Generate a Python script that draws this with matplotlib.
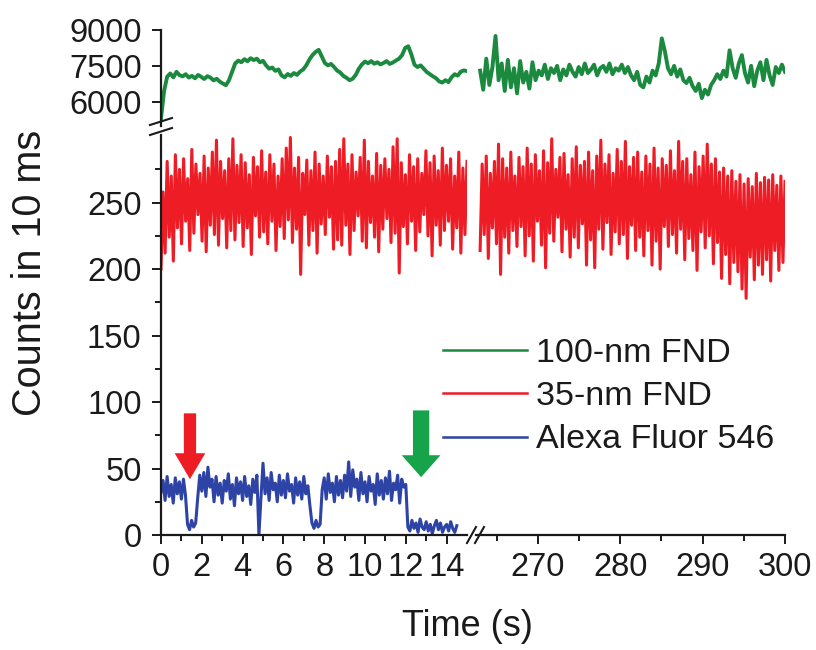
import numpy as np
import matplotlib
matplotlib.use("Agg")
import matplotlib.pyplot as plt
from matplotlib.patches import FancyArrow
from matplotlib.lines import Line2D

plt.rcParams['font.family'] = ['Liberation Sans', 'DejaVu Sans']

# ── Photon count traces (counts per 10 ms bin) ──────────────────────
# 35-nm FND, first 15 s
red_left = [
    200, 258, 212, 281, 224, 270, 206, 286, 231, 275,
    219, 283, 236, 268, 214, 290, 227, 279, 241, 272,
    221, 285, 213, 276, 233, 288, 226, 297, 218, 281,
    238, 274, 216, 283, 229, 298, 222, 278, 235, 286,
    217, 280, 231, 271, 211, 284, 240, 277, 224, 289,
    228, 273, 219, 286, 236, 279, 214, 270, 232, 283,
    223, 291, 237, 299, 220, 276, 230, 284, 196, 272,
    241, 282, 218, 274, 229, 288, 212, 279, 234, 270,
    226, 285, 239, 277, 215, 281, 222, 290, 218, 298,
    233, 279, 211, 286, 229, 273, 240, 284, 221, 297,
    216, 281, 235, 270, 224, 287, 213, 278, 230, 283,
    238, 275, 220, 292, 227, 298, 197, 280, 232, 271,
    219, 286, 236, 277, 214, 283, 228, 272, 241, 289,
    225, 280, 210, 285, 233, 274, 218, 291, 229, 278,
    236, 283, 215, 270, 231, 288, 212, 276, 226, 281,
]
# 35-nm FND, 263-300 s
red_right = [
    214, 279, 226, 285, 208, 272, 231, 281, 219, 294,
    196, 283, 224, 276, 212, 288, 229, 270, 217, 284,
    232, 277, 210, 291, 225, 279, 206, 286, 236, 274,
    218, 289, 201, 280, 227, 298, 221, 275, 239, 284,
    213, 287, 230, 271, 209, 283, 224, 292, 216, 278,
    234, 281, 203, 288, 222, 274, 201, 285, 230, 297,
    215, 279, 235, 286, 211, 272, 228, 290, 219, 281,
    226, 296, 208, 277, 233, 284, 214, 288, 224, 273,
    210, 285, 229, 279, 203, 291, 221, 276, 200, 283,
    232, 278, 217, 289, 226, 274, 212, 296, 230, 281,
    207, 283, 223, 271, 214, 288, 199, 277, 228, 285,
    216, 294, 225, 279, 204, 283, 220, 273, 193, 276,
    211, 270, 189, 274, 205, 266, 198, 271, 185, 264,
    178, 268, 209, 262, 192, 272, 203, 265, 196, 269,
    207, 267, 191, 271, 214, 263, 199, 270, 205, 266,
]
# 100-nm FND, first 15 s
green_left = [
    5300, 6450, 7050, 7180, 7020, 7250, 7110, 7060, 7150, 7010,
    7080, 6980, 7120, 7040, 6950, 7070, 7010, 6890, 6960, 6840,
    6760, 6690, 6900, 7250, 7600, 7720, 7650, 7780, 7690, 7820,
    7740, 7800, 7650, 7710, 7520, 7380, 7430, 7290, 7350, 7100,
    7020, 7160, 7080, 7200, 7120, 7260, 7350, 7520, 7760, 7950,
    8080, 8170, 7900, 7620, 7520, 7580, 7450, 7300, 7220, 7080,
    7000, 6900, 6960, 7120, 7380, 7560, 7680, 7610, 7700, 7590,
    7650, 7560, 7620, 7700, 7580, 7640, 7720, 7800, 7950, 8250,
    8320, 7980, 7550, 7450, 7520, 7380, 7240, 7150, 7060, 6980,
    6850, 6800, 6900, 6820, 7020, 7150, 7090, 7260, 7310, 7280,
]
# 100-nm FND, 263-300 s
green_right = [
    7300, 6500, 7800, 6700, 7450, 8750, 6900, 7600, 6450, 7750,
    6600, 7400, 6350, 7700, 6800, 7250, 6550, 7650, 6900, 7300,
    7100, 7550, 6950, 7400, 7200, 7500, 6900, 7350, 7100, 7550,
    7250, 7050, 7450, 7150, 7600, 7200, 7350, 7550, 7100, 7400,
    7500, 7250, 7600, 7150, 7400, 7300, 7550, 7200, 7450, 7100,
    6900, 7250, 6700, 6600, 7050, 6800, 7300, 7100, 7600, 8650,
    8100, 7400, 7150, 7500, 7050, 7350, 6900, 6780, 7000, 6650,
    6450, 6750, 6150, 6500, 6300, 6700, 6900, 7150, 6950, 7300,
    7050, 8150, 7400, 7000, 7600, 7950, 7200, 6800, 7500, 6650,
    7300, 7650, 6900, 7750, 7100, 6700, 7450, 7200, 7550, 7250,
]
# Alexa Fluor 546, 0-14.5 s in 0.1 s steps
blue = [
    32, 41, 26, 44, 29, 38, 24, 43, 31, 40,
    27, 42, 30, 8, 4, 11, 6, 9, 28, 45,
    33, 47, 29, 51, 36, 42, 25, 44, 30, 39,
    24, 41, 33, 46, 27, 38, 22, 43, 31, 40,
    26, 44, 29, 37, 23, 42, 32, 45, 0, 28,
    54, 31, 43, 26, 47, 34, 39, 25, 45, 30,
    41, 28, 46, 33, 38, 24, 43, 30, 40, 27,
    44, 31, 37, 22, 9, 5, 11, 6, 8, 34,
    43, 27, 46, 32, 39, 25, 44, 30, 41, 28,
    45, 33, 55, 29, 49, 36, 42, 26, 47, 31,
    40, 25, 44, 33, 38, 23, 46, 30, 41, 27,
    43, 31, 48, 26, 39, 34, 45, 24, 42, 36,
    38, 6, 3, 11, 5, 9, 2, 12, 6, 4,
    10, 3, 8, 1, 7, 11, 4, 9, 2, 6,
    8, 3, 10, 5, 2, 7,
]

labels = ["100-nm FND", "35-nm FND", "Alexa Fluor 546"]
GREEN, RED, BLUE = "#1b8a3f", "#ee1c25", "#2d43a6"
TXT = "#1a1a1a"

t_left_red = np.linspace(0, 15, len(red_left))
t_right_red = np.linspace(263, 300, len(red_right))
t_left_green = np.linspace(0, 15, len(green_left))
t_right_green = np.linspace(263, 300, len(green_right))
t_blue = np.arange(len(blue)) * 0.1

# ── Figure with broken x and y axes ─────────────────────────────────
W, H = 816, 650
fig = plt.figure(figsize=(W / 100, H / 100), dpi=100)


def px_box(x0, y0, x1, y1):
    return [x0 / W, 1 - y1 / H, (x1 - x0) / W, (y1 - y0) / H]


def fx(px):
    return px / W


def fy(py):
    return 1 - py / H


ax_ul = fig.add_axes(px_box(161, 30, 467, 125.6))
ax_ur = fig.add_axes(px_box(476, 30, 785, 125.6))
ax_ll = fig.add_axes(px_box(161, 134.8, 467, 535))
ax_lr = fig.add_axes(px_box(476, 134.8, 785, 535))

for ax in (ax_ul, ax_ur, ax_ll, ax_lr):
    ax.patch.set_alpha(0)
    for s in ax.spines.values():
        s.set_visible(False)
        s.set_linewidth(1.6)
        s.set_color(TXT)
    ax.tick_params(which="both", direction="out", width=1.4, color=TXT,
                   labelsize=23.5, labelcolor=TXT)
    ax.tick_params(which="major", length=6.5)
    ax.tick_params(which="minor", length=4.3)

for ax in (ax_ul, ax_ll):
    ax.set_xlim(0, 15)
for ax in (ax_ur, ax_lr):
    ax.set_xlim(262.5, 300)
for ax in (ax_ul, ax_ur):
    ax.set_ylim(5000, 9000)
for ax in (ax_ll, ax_lr):
    ax.set_ylim(0, 301)

# traces
ax_ul.plot(t_left_green, green_left, color=GREEN, lw=2.8)
ax_ur.plot(t_right_green, green_right, color=GREEN, lw=2.8)
ax_ll.plot(t_left_red, red_left, color=RED, lw=2.2)
ax_lr.plot(t_right_red, red_right, color=RED, lw=2.2)
ax_ll.plot(t_blue, blue, color=BLUE, lw=2.2)

# spines and ticks
ax_ul.spines["left"].set_visible(True)
ax_ll.spines["left"].set_visible(True)
ax_ll.spines["bottom"].set_visible(True)
ax_lr.spines["bottom"].set_visible(True)

ax_ul.set_yticks([6000, 7500, 9000])
ax_ul.set_xticks([])
ax_ur.set_xticks([])
ax_ur.set_yticks([])
ax_lr.set_yticks([])

ax_ll.set_yticks(np.arange(0, 251, 50))
ax_ll.set_yticks(np.arange(25, 276, 50), minor=True)
ax_ll.set_xticks(np.arange(0, 15, 2))
ax_ll.set_xticks(np.arange(1, 14, 2), minor=True)
ax_lr.set_xticks(np.arange(270, 301, 10))
ax_lr.set_xticks(np.arange(265, 296, 10), minor=True)

for ax in (ax_ul, ax_ll):
    ax.tick_params(axis="y", pad=7.5)
for ax in (ax_ll, ax_lr):
    ax.tick_params(axis="x", pad=6)

# bleaching arrows
ax_ll.add_patch(FancyArrow(1.42, 91.5, 0, -49.5, width=0.6, head_width=1.5,
                           head_length=19.5, length_includes_head=True,
                           color=RED, lw=0))
ax_ll.add_patch(FancyArrow(12.75, 93.7, 0, -50.2, width=0.8, head_width=1.9,
                           head_length=16.5, length_includes_head=True,
                           color="#17a349", lw=0))

# axis break marks
for y0 in (125, 135):
    fig.add_artist(Line2D([fx(150), fx(172)], [fy(y0), fy(y0 - 7)],
                          color=TXT, lw=1.5))
for x0 in (467, 475):
    fig.add_artist(Line2D([fx(x0), fx(x0 + 9)], [fy(543), fy(527)],
                          color=TXT, lw=1.5))

# axis titles
fig.text(fx(30), fy(273), "Counts in 10 ms", rotation=90, ha="center",
         va="center", fontsize=28.5, color=TXT)
fig.text(fx(467), fy(627), "Time (s)", ha="center", va="center",
         fontsize=26, color=TXT)

handles = [Line2D([], [], color=c, lw=1.8) for c in (GREEN, RED, BLUE)]
fig.legend(handles, labels, loc="upper left",
           bbox_to_anchor=(fx(443), fy(338)), bbox_transform=fig.transFigure,
           frameon=False, fontsize=24.5, handlelength=2.47, handletextpad=0.26,
           labelspacing=0.36, borderpad=0, borderaxespad=0,
           labelcolor=TXT)

fig.savefig("out.png", dpi=100, facecolor="white")
